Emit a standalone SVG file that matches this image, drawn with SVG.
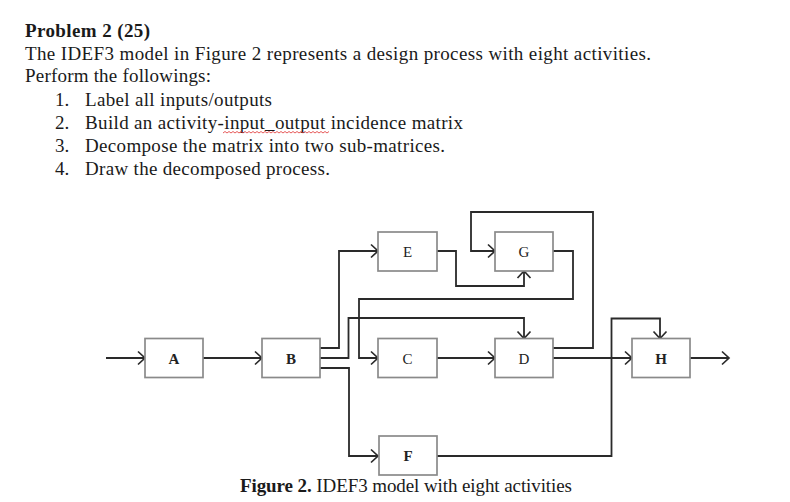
<svg xmlns="http://www.w3.org/2000/svg" width="790" height="502" viewBox="0 0 790 502">
  <style>
    .t { font-family: "Liberation Serif", "Times New Roman", serif; font-size: 19px; fill: #1a1a1a; }
    .b { font-weight: bold; }
    .box { fill: #ffffff; stroke: #8a8a8a; stroke-width: 1.7; }
    .lbl { font-family: "Liberation Serif", "Times New Roman", serif; font-size: 15px; fill: #222; text-anchor: middle; }
    .conn { fill: none; stroke: #2a2a2a; stroke-width: 1.8; stroke-linejoin: miter; }
    .arr { marker-end: url(#chev); }
  </style>
  <defs>
    <marker id="chev" markerUnits="userSpaceOnUse" markerWidth="12" markerHeight="16" viewBox="-9 -8 10 16" refX="0" refY="0" orient="auto">
      <path d="M-7,-6.5 L0,0 L-7,6.5" fill="none" stroke="#2a2a2a" stroke-width="1.7"/>
    </marker>
  </defs>
  <rect width="790" height="502" fill="#ffffff"/>

  <g id="problem-text">
    <text class="t b" x="25" y="37" textLength="125" lengthAdjust="spacing">Problem 2 (25)</text>
    <text class="t" x="25" y="60" textLength="626" lengthAdjust="spacing">The IDEF3 model in Figure 2 represents a design process with eight activities.</text>
    <text class="t" x="25" y="82" textLength="186" lengthAdjust="spacing">Perform the followings:</text>
    <text class="t" x="55" y="106">1.</text>
    <text class="t" x="85" y="106" textLength="187" lengthAdjust="spacing">Label all inputs/outputs</text>
    <text class="t" x="55" y="129">2.</text>
    <text class="t" x="85" y="129" textLength="378" lengthAdjust="spacing">Build an activity-input_output incidence matrix</text>
    <path d="M223,133 l2,-1.5 l2,1.5 l2,-1.5 l2,1.5 l2,-1.5 l2,1.5 l2,-1.5 l2,1.5 l2,-1.5 l2,1.5 l2,-1.5 l2,1.5 l2,-1.5 l2,1.5 l2,-1.5 l2,1.5 l2,-1.5 l2,1.5 l2,-1.5 l2,1.5 l2,-1.5 l2,1.5 l2,-1.5 l2,1.5 l2,-1.5 l2,1.5 l2,-1.5 l2,1.5 l2,-1.5 l2,1.5 l2,-1.5 l2,1.5 l2,-1.5 l2,1.5 l2,-1.5 l2,1.5 l2,-1.5 l2,1.5 l2,-1.5 l2,1.5 l2,-1.5 l2,1.5 l2,-1.5 l2,1.5 l2,-1.5 l2,1.5 l2,-1.5 l2,1.5 l2,-1.5 l2,1.5 l2,-1.5 l2,1.5 l2,-1.5" fill="none" stroke="#e03030" stroke-width="0.8"/>
    <text class="t" x="55" y="152">3.</text>
    <text class="t" x="85" y="152" textLength="360" lengthAdjust="spacing">Decompose the matrix into two sub-matrices.</text>
    <text class="t" x="55" y="175">4.</text>
    <text class="t" x="85" y="175" textLength="245" lengthAdjust="spacing">Draw the decomposed process.</text>
  </g>

  <g id="connectors">
    <path class="conn arr" d="M106,358 H145"/>
    <path class="conn arr" d="M203,358 H262"/>
    <path class="conn arr" d="M320,348 H339 V251 H378"/>
    <path class="conn arr" d="M320,358 H348.5 V318 H524 V338.5"/>
    <path class="conn arr" d="M320,368 H349 V456 H378"/>
    <path class="conn arr" d="M437,251 H456 V286 H524 V271"/>
    <path class="conn arr" d="M553,251 H573 V299 H359 V358 H378"/>
    <path class="conn arr" d="M437,358 H495"/>
    <path class="conn arr" d="M553,348 H593 V212 H471 V251 H495"/>
    <path class="conn arr" d="M553,358 H632"/>
    <path class="conn arr" d="M437,456 H611.5 V318.5 H660 V338.5"/>
    <path class="conn arr" d="M690,358 H729"/>
  </g>

  <g id="node-A"><rect class="box" x="145" y="338.5" width="58" height="39"/><text class="lbl b" x="174" y="363.5">A</text></g>
  <g id="node-B"><rect class="box" x="262" y="338.5" width="58" height="39"/><text class="lbl b" x="291" y="363.5">B</text></g>
  <g id="node-E"><rect class="box" x="378" y="232" width="59" height="39"/><text class="lbl" x="407.5" y="257">E</text></g>
  <g id="node-G"><rect class="box" x="495" y="232" width="58" height="39"/><text class="lbl" x="524" y="257">G</text></g>
  <g id="node-C"><rect class="box" x="378" y="338.5" width="59" height="39"/><text class="lbl" x="407.5" y="363.5">C</text></g>
  <g id="node-D"><rect class="box" x="495" y="338.5" width="58" height="39"/><text class="lbl" x="524" y="363.5">D</text></g>
  <g id="node-H"><rect class="box" x="632" y="338.5" width="58" height="39"/><text class="lbl b" x="661" y="363.5">H</text></g>
  <g id="node-F"><rect class="box" x="379" y="436" width="58" height="39"/><text class="lbl b" x="408" y="461">F</text></g>

  <g id="caption">
    <text class="t" x="240" y="492" textLength="332" lengthAdjust="spacing"><tspan class="b">Figure 2.</tspan> IDEF3 model with eight activities</text>
  </g>
</svg>
